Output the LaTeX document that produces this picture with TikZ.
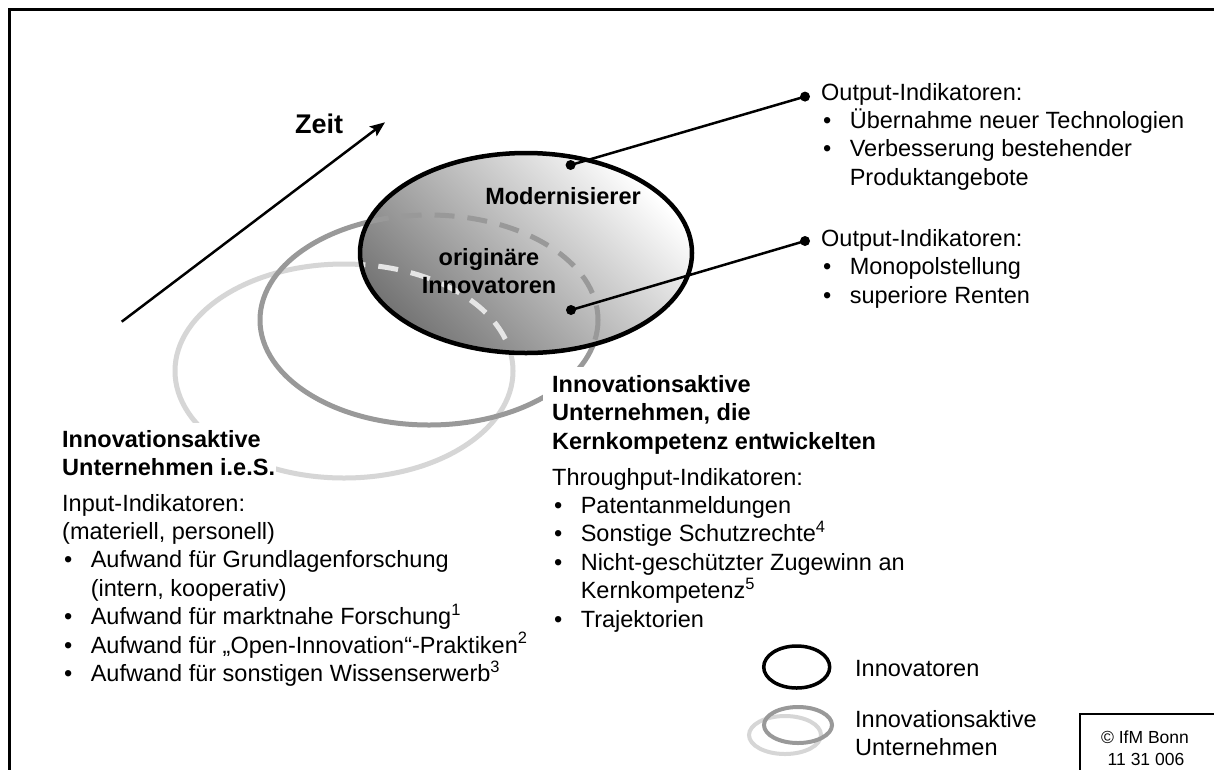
\documentclass[tikz,border=0pt]{standalone}
\usepackage{fontspec}
\setmainfont{Liberation Sans}
\usetikzlibrary{arrows.meta}
\definecolor{ltgray}{gray}{0.84}
\definecolor{mdgray}{gray}{0.6}
\definecolor{ltdash}{gray}{0.9}
\definecolor{shdark}{gray}{0.46}
\definecolor{shlight}{gray}{1}
\newcommand\fsn{\fontsize{23.5}{28.4}\selectfont}
\newcommand\bul{\makebox[28.6pt][l]{\hspace{2pt}\textbullet}}
\newcommand\ind{\hspace*{28.6pt}}
\begin{document}
\begin{tikzpicture}[x=1pt,y=-1pt,
  txt/.style={anchor=base west, inner sep=0pt, font=\fsn},
  head/.style={anchor=base west, font=\fsn\bfseries, fill=white},
  bold/.style={anchor=base, inner sep=0pt, font=\fsn\bfseries},
  dotn/.style={circle, fill=black, inner sep=0pt, minimum size=10pt},
  conn/.style={line width=2.5pt},
  ring/.style={line width=5pt},
  dashring/.style={line width=5pt, dash pattern=on 20pt off 13pt},
 ]
\useasboundingbox (0,0) rectangle (1214,769);
\clip (0,0) rectangle (1214,769);
\fill[white] (0,0) rectangle (1214,769);
% frame
\draw[line width=3pt] (9.5,790) -- (9.5,9.5) -- (1240,9.5);

% gray ellipses (solid)
\draw[ltgray, ring] (344,371) ellipse [x radius=169, y radius=107];
\draw[mdgray, ring] (429,320) ellipse [x radius=169, y radius=105];

% main ellipse
\shade[top color=shlight, bottom color=shdark, shading angle=-45] (526,253) ellipse [x radius=166, y radius=100];
\begin{scope}
\clip (526,253) ellipse [x radius=166, y radius=100];
\draw[ltdash, dashring] (344,371) ellipse [x radius=169, y radius=107];
\draw[mdgray, dashring] (429,320) ellipse [x radius=169, y radius=105];
\end{scope}
\draw[line width=4.5pt] (526,253) ellipse [x radius=166, y radius=100];

\node[bold] (mod) at (563,204) {Modernisierer};
\node[bold] (orig1) at (489,265) {originäre};
\node[bold] (orig2) at (489,293.5) {Innovatoren};

% time arrow
\node[anchor=base, inner sep=0pt, font=\fontsize{27}{32}\selectfont\bfseries] (zeit) at (319,133) {Zeit};
\coordinate (zs) at (121.7,321.7);
\coordinate (ze) at (385,122.3);
\draw[line width=2.5pt, -{Stealth[length=15pt,width=12pt,inset=3pt]}] (zs) -- (ze);

% connectors
\node[dotn] (m1) at (570.6,165) {};
\node[dotn] (m2) at (571,310) {};
\node[dotn] (r1) at (805,96.6) {};
\node[dotn] (r2) at (805,241) {};
\draw[conn] (m1.center) -- (r1.center);
\draw[conn] (m2.center) -- (r2.center);

% right texts
\node[txt] (out1) at (821,100) {\vtop{\hbox{Output-Indikatoren:}\hbox{\bul Übernahme neuer Technologien}\hbox{\bul Verbesserung bestehender}\hbox{\ind Produktangebote}}};
\node[txt] (out2) at (821,246.4) {\vtop{\hbox{Output-Indikatoren:}\hbox{\bul Monopolstellung}\hbox{\bul superiore Renten}}};

% middle block
\node[head, inner xsep=9pt, inner ysep=8pt] (mh) at (543,392.5) {\vtop{\hbox{Innovationsaktive}\hbox{Unternehmen, die}\hbox{Kernkompetenz entwickelten}}};
\node[txt] (mb) at (552,485) {\vtop{\hbox{Throughput-Indikatoren:}\hbox{\bul Patentanmeldungen}\hbox{\bul Sonstige Schutzrechte\textsuperscript{4}}\hbox{\bul Nicht-geschützter Zugewinn an}\hbox{\ind Kernkompetenz\textsuperscript{5}}\hbox{\bul Trajektorien}}};

% left block
\node[head, inner xsep=1pt, inner ysep=7pt] (lh) at (61,447.5) {\vtop{\hbox{Innovationsaktive}\hbox{Unternehmen i.e.S.}}};
\node[txt] (lb) at (62,511) {\vtop{\hbox{Input-Indikatoren:}\hbox{(materiell, personell)}\hbox{\bul Aufwand für Grundlagenforschung}\hbox{\ind (intern, kooperativ)}\hbox{\bul Aufwand für marktnahe Forschung\textsuperscript{1}}\hbox{\bul Aufwand für „Open-Innovation“-Praktiken\textsuperscript{2}}\hbox{\bul Aufwand für sonstigen Wissenserwerb\textsuperscript{3}}}};

% legend
\draw[line width=3.5pt] (796.7,667) ellipse [x radius=33, y radius=21];
\draw[ltgray, line width=4pt] (785,735) ellipse [x radius=36, y radius=19];
\draw[mdgray, line width=4pt] (798,725) ellipse [x radius=34, y radius=18];
\node[txt] (lg1) at (855,676.5) {Innovatoren};
\node[txt] (lg2) at (855,727.5) {\vtop{\hbox{Innovationsaktive}\hbox{Unternehmen}}};

% copyright box
\draw[line width=1.5pt] (1080,714) rectangle (1240,800);
\node[anchor=base, inner sep=0pt, font=\fontsize{17.5}{22}\selectfont] (cp1) at (1145,743) {© IfM Bonn};
\node[anchor=base, inner sep=0pt, font=\fontsize{17.5}{22}\selectfont] (cp2) at (1146,765) {11 31 006};
\end{tikzpicture}
\end{document}
